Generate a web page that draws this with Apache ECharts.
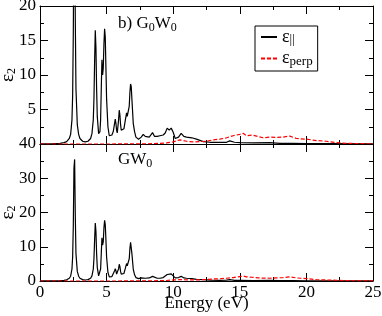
<!DOCTYPE html>
<html><head><meta charset="utf-8">
<script src="https://cdn.jsdelivr.net/npm/echarts@6/dist/echarts.min.js"></script>
<style>html,body{margin:0;padding:0;background:#fff}#c{width:382px;height:316px}</style>
</head><body><div id="c"></div>
<script>
// Energy grid (eV) for the parallel component
const energyPar = [0, 1.0, 1.5, 1.8, 2.0, 2.2, 2.3, 2.4, 2.45, 2.5, 2.55, 2.6, 2.65, 2.7, 2.8, 2.9, 3.0, 3.2, 3.4, 3.6, 3.8, 3.9, 4.0, 4.05, 4.1, 4.15, 4.2, 4.25, 4.3, 4.4, 4.5, 4.55, 4.6, 4.65, 4.7, 4.75, 4.8, 4.85, 4.9, 4.95, 5.0, 5.1, 5.2, 5.3, 5.4, 5.5, 5.6, 5.65, 5.7, 5.75, 5.8, 5.9, 5.95, 6.0, 6.05, 6.1, 6.2, 6.3, 6.4, 6.5, 6.55, 6.6, 6.7, 6.75, 6.8, 6.85, 6.9, 7.0, 7.1, 7.2, 7.4, 7.6, 7.75, 7.9, 8.0, 8.2, 8.45, 8.6, 8.8, 9.0, 9.25, 9.4, 9.55, 9.7, 9.85, 10.0, 10.15, 10.4, 10.6, 10.8, 11.0, 11.4, 11.75, 12.25, 12.75, 13.5, 14.0, 14.25, 14.6, 15.0, 16.0, 17.25, 18.0, 19.0, 20.0, 22.0, 25.0];
// G0W0 eps_parallel
const g0w0Par = [0.02, 0.05, 0.1, 0.2, 0.35, 0.8, 1.4, 3.5, 7, 16, 32, 33, 18, 8, 2.8, 1.4, 0.8, 0.4, 0.3, 0.4, 0.8, 1.5, 3.5, 6.5, 12, 16.5, 14, 8, 4, 1.5, 1.8, 3.5, 8, 12.2, 10, 11, 14.5, 16.7, 15.5, 11, 6.5, 2.5, 1.2, 1.05, 1.3, 1.8, 3.0, 3.6, 3.0, 2.0, 1.6, 3.5, 4.9, 4.2, 2.8, 2.0, 1.8, 2.2, 3.4, 4.5, 4.0, 3.8, 5.5, 7.5, 8.7, 8.3, 6.5, 3.0, 1.8, 1.0, 0.7, 1.0, 1.4, 1.1, 1.0, 1.0, 1.65, 1.1, 1.1, 1.2, 1.3, 1.6, 2.3, 2.0, 2.3, 1.7, 0.8, 1.0, 1.55, 1.1, 1.0, 0.9, 0.7, 0.35, 0.25, 0.25, 0.25, 0.45, 0.25, 0.2, 0.15, 0.2, 0.1, 0.1, 0.05, 0.05, 0.02];
// GW0 eps_parallel
const gw0Par = [0.02, 0.05, 0.1, 0.2, 0.35, 0.8, 1.4, 3.5, 7, 16, 33, 35.5, 19, 8, 2.8, 1.4, 0.8, 0.4, 0.3, 0.4, 0.8, 1.5, 3.5, 6.5, 12, 16.9, 14.5, 8, 4, 1.5, 1.8, 3.5, 8, 12.6, 10.5, 11.5, 15.5, 17.7, 16.5, 12, 7, 2.5, 1.2, 1.0, 1.3, 1.8, 3.0, 3.6, 3.0, 2.0, 1.6, 3.6, 4.9, 4.2, 2.8, 2.0, 1.8, 2.2, 3.6, 5.1, 4.4, 4.0, 6.5, 9.5, 11.3, 10.8, 8, 3.5, 1.8, 1.0, 0.7, 0.9, 1.2, 0.8, 0.7, 0.9, 1.36, 0.9, 0.8, 0.8, 1.0, 1.3, 1.9, 1.7, 2.1, 1.5, 0.9, 1.0, 1.36, 0.9, 0.8, 0.7, 0.5, 0.4, 0.25, 0.2, 0.25, 0.4, 0.2, 0.2, 0.15, 0.2, 0.1, 0.1, 0.05, 0.05, 0.02];
// Energy grid (eV) for the perpendicular component
const energyPerp = [0, 5, 8, 9.0, 9.5, 10.0, 10.5, 11.0, 11.5, 12.0, 12.5, 13.0, 13.5, 14.0, 14.5, 15.0, 15.25, 15.5, 15.9, 16.4, 16.75, 17.25, 17.75, 18.25, 18.75, 19.25, 20.0, 20.75, 21.5, 22.25, 23.0, 24.0, 25.0];
const g0w0Perp = [0, 0, 0.02, 0.1, 0.15, 0.3, 0.6, 0.4, 0.3, 0.35, 0.4, 0.6, 0.7, 0.9, 1.2, 1.4, 1.55, 1.2, 1.3, 1.07, 0.9, 1.0, 0.95, 1.0, 1.15, 0.8, 0.7, 0.5, 0.4, 0.2, 0.1, 0.05, 0.03];
const gw0Perp = [0, 0, 0.02, 0.1, 0.15, 0.3, 0.4, 0.35, 0.3, 0.35, 0.45, 0.6, 0.65, 0.8, 1.0, 1.3, 1.45, 1.2, 1.1, 0.9, 0.85, 0.8, 0.9, 1.0, 1.2, 0.9, 0.7, 0.4, 0.3, 0.2, 0.1, 0.05, 0.03];
const xTicks = [0, 5, 10, 15, 20, 25];
const topYTicks = [0, 5, 10, 15, 20];
const botYTicks = [0, 10, 20, 30, 40];

const FONT = "'Liberation Serif', 'Times New Roman', serif";
const zip = (xs, ys) => xs.map((x, i) => [x, ys[i]]);

function xAx(grid, pos, labels) {
  return {
    type: 'value', gridIndex: grid, position: pos,
    min: xTicks[0], max: xTicks[xTicks.length - 1], interval: xTicks[1] - xTicks[0],
    axisLine: { show: true, onZero: false, lineStyle: { color: '#000', width: 1 } },
    axisTick: { show: true, inside: true, length: 8, lineStyle: { color: '#000' } },
    minorTick: { show: true, splitNumber: 2, length: 4, lineStyle: { color: '#000' } },
    splitLine: { show: false },
    axisLabel: { show: labels, color: '#000', fontFamily: FONT, fontSize: 17, margin: 3 },
    name: labels ? 'Energy (eV)' : '', nameLocation: 'middle', nameGap: 14, nameMoveOverlap: false,
    nameTextStyle: { color: '#000', fontFamily: FONT, fontSize: 17, verticalAlign: 'top' }
  };
}
function yAx(grid, pos, ticks, labels, hideMin) {
  return {
    type: 'value', gridIndex: grid, position: pos,
    min: ticks[0], max: ticks[ticks.length - 1], interval: ticks[1] - ticks[0],
    axisLine: { show: true, onZero: false, lineStyle: { color: '#000', width: 1 } },
    axisTick: { show: true, inside: true, length: 8, lineStyle: { color: '#000' } },
    minorTick: { show: true, splitNumber: 2, length: 4, lineStyle: { color: '#000' } },
    splitLine: { show: false },
    axisLabel: { show: labels, color: '#000', fontFamily: FONT, fontSize: 17, margin: 4, showMinLabel: !hideMin },
    name: labels ? '{e|ε}{s|2}' : '', nameLocation: 'middle', nameGap: 22, nameRotate: 90, nameMoveOverlap: false,
    nameTextStyle: { color: '#000', fontFamily: FONT,
      rich: { e: { fontSize: 19, fontFamily: FONT, color: '#000' },
              s: { fontSize: 12, fontFamily: FONT, color: '#000', padding: [8, 0, 0, 0] } } }
  };
}

const chart = echarts.init(document.getElementById('c'), null, { renderer: 'canvas' });
chart.setOption({
  animation: false,
  backgroundColor: '#fff',
  grid: [
    { left: 40, right: 9, top: 6, height: 138, containLabel: false, outerBoundsMode: 'none' },
    { left: 40, right: 9, top: 144, height: 137, containLabel: false, outerBoundsMode: 'none' }
  ],
  xAxis: [xAx(0, 'bottom', false), xAx(0, 'top', false), xAx(1, 'bottom', true), xAx(1, 'top', false)],
  yAxis: [yAx(0, 'left', topYTicks, true, true), yAx(0, 'right', topYTicks, false, false),
          yAx(1, 'left', botYTicks, true, false), yAx(1, 'right', botYTicks, false, false)],
  legend: {
    data: ['par', 'perp'], orient: 'vertical', left: 255, top: 26,
    borderColor: '#000', borderWidth: 1, borderRadius: 0, padding: [2, 5, 3, 5], itemGap: 3,
    itemWidth: 16, itemHeight: 12,
    itemStyle: { opacity: 0 },
    formatter: n => n === 'par' ? '{e|ε}{s|||}' : '{e|ε}{s|perp}',
    textStyle: { color: '#000', fontFamily: FONT,
      rich: { e: { fontSize: 18, fontFamily: FONT, color: '#000' },
              s: { fontSize: 13, fontFamily: FONT, color: '#000', padding: [6, 0, 0, 0] } } }
  },
  graphic: [
    { type: 'text', left: 118, top: 15, style: { text: '{a|b) G}{s|0}{a|W}{s|0}', fill: '#000',
      rich: { a: { fontSize: 17, fontFamily: FONT, fill: '#000' }, s: { fontSize: 12, fontFamily: FONT, fill: '#000', padding: [9, 0, 0, 0] } } } },
    { type: 'text', left: 118, top: 151, style: { text: '{a|GW}{s|0}', fill: '#000',
      rich: { a: { fontSize: 17, fontFamily: FONT, fill: '#000' }, s: { fontSize: 12, fontFamily: FONT, fill: '#000', padding: [9, 0, 0, 0] } } } }
  ],
  series: [
    { name: 'par', type: 'line', xAxisIndex: 0, yAxisIndex: 0, data: zip(energyPar, g0w0Par), symbol: 'none', lineStyle: { color: '#000', width: 1.2 }, itemStyle: { color: '#000' } },
    { name: 'perp', type: 'line', xAxisIndex: 0, yAxisIndex: 0, data: zip(energyPerp, g0w0Perp), symbol: 'none', lineStyle: { color: '#ff0000', width: 1.2, type: [4, 2] }, itemStyle: { color: '#ff0000' } },
    { name: 'par', type: 'line', xAxisIndex: 2, yAxisIndex: 2, data: zip(energyPar, gw0Par), symbol: 'none', lineStyle: { color: '#000', width: 1.2 }, itemStyle: { color: '#000' } },
    { name: 'perp', type: 'line', xAxisIndex: 2, yAxisIndex: 2, data: zip(energyPerp, gw0Perp), symbol: 'none', lineStyle: { color: '#ff0000', width: 1.2, type: [4, 2] }, itemStyle: { color: '#ff0000' } }
  ]
});
</script></body></html>
